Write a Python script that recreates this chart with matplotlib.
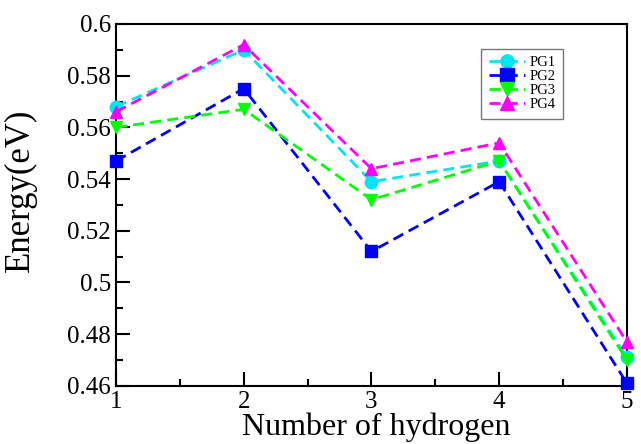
import matplotlib
matplotlib.use("Agg")
import matplotlib.pyplot as plt
from matplotlib.ticker import MultipleLocator

plt.rcParams['font.family'] = ['Liberation Serif', 'DejaVu Serif']
plt.rcParams['mathtext.fontset'] = 'stix'

x = [1, 2, 3, 4, 5]
pg1 = [0.568, 0.590, 0.539, 0.547, 0.471]
pg2 = [0.547, 0.575, 0.512, 0.539, 0.461]
pg3 = [0.560, 0.567, 0.532, 0.547, 0.470]
pg4 = [0.566, 0.592, 0.544, 0.554, 0.477]
labels = ['PG1', 'PG2', 'PG3', 'PG4']
colors = ['#00e5ee', '#0000ff', '#00ff00', '#ff00ff']
markers = ['o', 's', 'v', '^']

fig = plt.figure(figsize=(6.41, 4.44), dpi=100)
ax = fig.add_axes([0.181, 0.131, 0.797, 0.815])

for y, lab, c, m in zip([pg1, pg2, pg3, pg4], labels, colors, markers):
    ax.plot(x, y, linestyle=(0, (4, 2.2)), color=c, lw=2, marker=m,
            markersize=9, label=lab, clip_on=False, zorder=3)

ax.set_xlim(1, 5)
ax.set_ylim(0.46, 0.6)
ax.xaxis.set_major_locator(MultipleLocator(1))
ax.xaxis.set_minor_locator(MultipleLocator(0.5))
ax.yaxis.set_major_locator(MultipleLocator(0.02))
ax.yaxis.set_minor_locator(MultipleLocator(0.01))
ax.set_yticks([0.46, 0.48, 0.5, 0.52, 0.54, 0.56, 0.58, 0.6])
ax.set_yticklabels(['0.46', '0.48', '0.5', '0.52', '0.54', '0.56', '0.58', '0.6'])
ax.tick_params(which='both', direction='in', width=1.5, labelsize=18)
ax.tick_params(which='major', length=10)
ax.tick_params(which='minor', length=5)
ax.tick_params(axis='x', pad=4)
for s in ax.spines.values():
    s.set_linewidth(1.5)

ax.set_xlabel('Number of hydrogen', fontsize=23)
ax.xaxis.set_label_coords(0.509, -0.073)
ax.set_ylabel('Energy(eV)', fontsize=25)
ax.yaxis.set_label_coords(-0.155, 0.541)

leg = ax.legend(loc='upper right', bbox_to_anchor=(0.875, 0.931), borderaxespad=0,
                fontsize=10.5, frameon=True, fancybox=False, edgecolor='#555555',
                handlelength=2.5, handletextpad=0.3, labelspacing=0.05,
                borderpad=0.5, markerscale=1.05)
leg.get_frame().set_linewidth(1.0)

fig.savefig('out.png', dpi=100)
